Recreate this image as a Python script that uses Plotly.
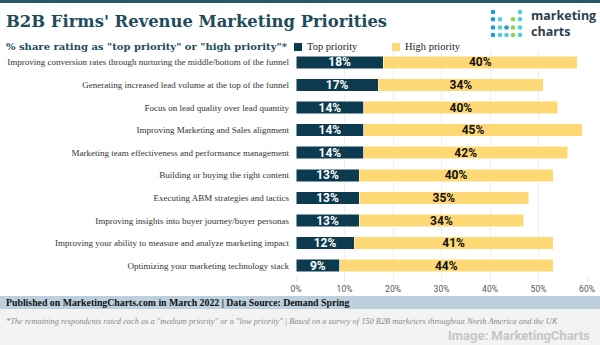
import plotly.graph_objects as go

# Survey data: share of B2B firms rating each item as a top / high priority
categories = [
    "Improving conversion rates through nurturing the middle/bottom of the funnel",
    "Generating increased lead volume at the top of the funnel",
    "Focus on lead quality over lead quantity",
    "Improving Marketing and Sales alignment",
    "Marketing team effectiveness and performance management",
    "Building or buying the right content",
    "Executing ABM strategies and tactics",
    "Improving insights into buyer journey/buyer personas",
    "Improving your ability to measure and analyze marketing impact",
    "Optimizing your marketing technology stack",
]
top_priority = [18, 17, 14, 14, 14, 13, 13, 13, 12, 9]
high_priority = [40, 34, 40, 45, 42, 40, 35, 34, 41, 44]
series_names = ["Top priority", "High priority"]
x_ticks = [0, 10, 20, 30, 40, 50, 60]

W, H = 600, 345
ML, MR, MT, MB = 296, 13, 51, 68
PW, PH = W - ML - MR, H - MT - MB


def px(x):
    """pixel column -> paper x"""
    return (x - ML) / PW


def py(y):
    """pixel row -> paper y"""
    return (H - MB - y) / PH


DARK = "#0c3b4f"
YELLOW = "#ffd876"
TITLE = "#1d4c5c"
SERIF = "DejaVu Serif, serif"
LABEL_SERIF = "Liberation Serif, serif"

fig = go.Figure()
for name, vals, fill, txt in [
    (series_names[0], top_priority, DARK, "#ffffff"),
    (series_names[1], high_priority, YELLOW, "#111111"),
]:
    fig.add_trace(go.Bar(
        y=categories, x=vals, orientation="h", name=name,
        marker=dict(color=fill, line=dict(color="#ffffff", width=0.5)),
        text=[f"{v}%" for v in vals], textposition="inside",
        insidetextanchor="middle", constraintext="none",
        textfont=dict(family="Roboto", size=12, color=txt, weight="bold"),
    ))


def note(text, x, y, anchor="left", **font):
    return dict(text=text, x=px(x), y=py(y), xref="paper", yref="paper",
                xanchor=anchor, yanchor="middle", showarrow=False,
                borderpad=0, font=font)


shapes = [
    # top rule
    dict(type="rect", xref="paper", yref="paper", x0=px(0), x1=px(W),
         y0=py(3), y1=py(0), fillcolor="#24586a", line_width=0, layer="below"),
    # source band
    dict(type="rect", xref="paper", yref="paper", x0=px(0), x1=px(W),
         y0=py(309), y1=py(296), fillcolor="#bcd1dd", line_width=0, layer="below"),
    # footnote area
    dict(type="rect", xref="paper", yref="paper", x0=px(0), x1=px(W),
         y0=py(H), y1=py(309), fillcolor="#f3f3f3", line_width=0, layer="below"),
]

# legend swatches + labels
legend_x = [298, 396]
for name, lx, fill in zip(series_names, legend_x, [DARK, YELLOW]):
    shapes.append(dict(type="rect", xref="paper", yref="paper",
                       x0=px(lx - 4), x1=px(lx + 4), y0=py(51), y1=py(43),
                       fillcolor=fill, line_width=0))

# logo dot grid
BLUE, AQUA, GREEN = "#1b9bc6", "#4fd0d8", "#8bd14a"
logo_rows = [
    [BLUE, None, None, None, AQUA],
    [BLUE, AQUA, None, GREEN, AQUA],
    [BLUE, AQUA, BLUE, GREEN, AQUA],
    [BLUE, AQUA, AQUA, GREEN, AQUA],
]
col_x = [493, 500, 506.5, 513, 520]
row_y = [12, 19.3, 27.5, 35]
r = 2.3
for ri, row in enumerate(logo_rows):
    for ci, c in enumerate(row):
        if c is None:
            continue
        cx, cy = col_x[ci], row_y[ri]
        shapes.append(dict(type="circle", xref="paper", yref="paper",
                           x0=px(cx - r), x1=px(cx + r), y0=py(cy + r), y1=py(cy - r),
                           fillcolor=c, line_width=0))

annotations = [
    note("B2B Firms' Revenue Marketing Priorities", 5, 21,
         family=SERIF, size=16.4, color=TITLE, weight="bold"),
    note('% share rating as "top priority" or "high priority"*', 5, 46,
         family=SERIF, size=10, color=TITLE, weight="bold"),
    note("marketing<br>charts", 530, 23.5, family="Open Sans", size=12.5,
         color="#2d3e4e", weight="bold"),
    note("Published on MarketingCharts.com in March 2022 | Data Source: Demand Spring",
         5, 302.5, family=LABEL_SERIF, size=9.8, color="#111111", weight="bold"),
    note('*The remaining respondents rated each as a "medium priority" or a "low priority" | '
         'Based on a survey of 150 B2B marketers throughout North America and the UK',
         5, 321, family=LABEL_SERIF, size=8.4, color="#8a8a8a", style="italic"),
    note("Image: MarketingCharts", 591, 335, anchor="right",
         family="Roboto, sans-serif", size=13, color="#c6c6c6", weight="bold"),
]
annotations[2]["align"] = "left"
for name, lx in zip(series_names, legend_x):
    annotations.append(note(name, lx + 8, 47, family=LABEL_SERIF, size=10.5, color="#222222"))

fig.update_layout(
    width=W, height=H,
    margin=dict(l=ML, r=MR, t=MT, b=MB, pad=0, autoexpand=False),
    paper_bgcolor="#ffffff", plot_bgcolor="#ffffff",
    barmode="stack", bargap=0.45,
    showlegend=False,
    xaxis=dict(range=[0, 60], tickvals=x_ticks, ticktext=[f"{v}%" for v in x_ticks],
               showgrid=True, gridcolor="#eeeeee", gridwidth=1, zeroline=False,
               ticks="outside", ticklen=4, tickcolor="#e6e6e6", automargin=False,
               tickfont=dict(family="Roboto", size=8.5, color="#555555"),
               fixedrange=True),
    yaxis=dict(categoryorder="array", categoryarray=categories, autorange="reversed",
               showgrid=False, zeroline=False, ticks="", ticklabelstandoff=6,
               automargin=False,
               tickfont=dict(family=LABEL_SERIF, size=9, color="#333333"),
               fixedrange=True),
    shapes=shapes, annotations=annotations,
)

fig.write_html("out.html")
